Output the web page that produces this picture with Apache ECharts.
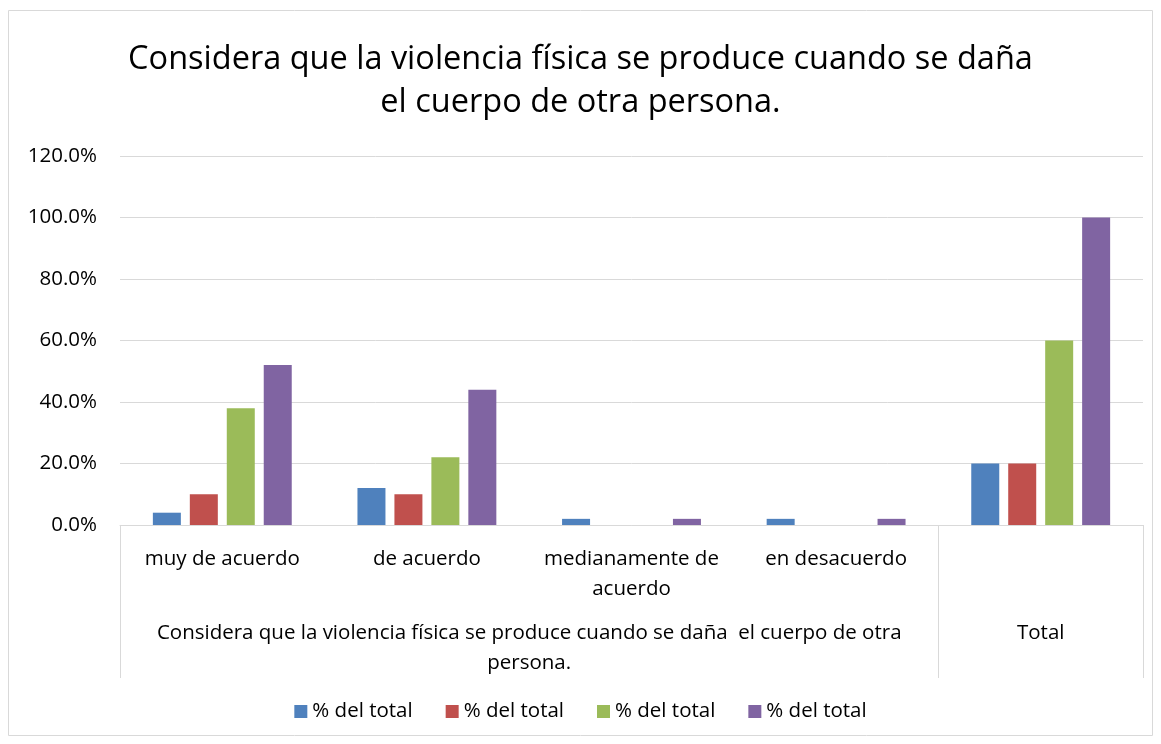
<!DOCTYPE html>
<html>
<head>
<meta charset="utf-8">
<script src="https://cdn.jsdelivr.net/npm/echarts@6/dist/echarts.min.js"></script>
<style>
  html, body { margin: 0; padding: 0; background: #fff; }
  #main { width: 1161px; height: 744px; }
</style>
</head>
<body>
<div id="main"></div>
<script>
// datos del gráfico
var categories = ['muy de acuerdo', 'de acuerdo', 'medianamente de\nacuerdo', 'en desacuerdo', ''];
var groupLabels = ['Considera que la violencia física se produce cuando se daña  el cuerpo de otra\npersona.', 'Total'];
var seriesNames = ['% del total', '% del total', '% del total', '% del total'];
var serie1 = [4, 12, 2, 2, 20];
var serie2 = [10, 10, 0, 0, 20];
var serie3 = [38, 22, 0, 0, 60];
var serie4 = [52, 44, 2, 2, 100];
var colors = ['#4f81bd', '#c0504d', '#9bbb59', '#8064a2'];

var font = '"Open Sans", Lato, sans-serif';
var chart = echarts.init(document.getElementById('main'));

function makeSeries(data, i) {
  return {
    name: seriesNames[i] + '\u200b'.repeat(i), // nombres repetidos, así cada uno sale en la leyenda
    type: 'bar',
    data: data,
    barWidth: 28,
    barGap: '32%',
    itemStyle: { color: colors[i] }
  };
}

var option = {
  color: colors,
  animation: false,
  title: {
    text: 'Considera que la violencia física se produce cuando se daña\nel cuerpo de otra persona.',
    left: 'center',
    top: 33,
    textStyle: { fontFamily: font, fontSize: 32.5, fontWeight: 'normal', color: '#000', lineHeight: 43 }
  },
  legend: {
    bottom: 17,
    left: 'center',
    itemWidth: 13,
    itemHeight: 13,
    itemGap: 33,
    icon: 'rect',
    textStyle: { fontFamily: font, fontSize: 20.5, color: '#000' },
    formatter: function (name) { return name.replace(/\u200b/g, ''); }
  },
  grid: { left: 120, right: 18, top: 156, bottom: 219 },
  xAxis: [{
    type: 'category',
    data: categories,
    axisLine: { lineStyle: { color: '#d9d9d9', width: 1 } },
    axisTick: { show: false },
    axisLabel: { fontFamily: font, fontSize: 20.5, color: '#000', margin: 19, lineHeight: 30, interval: 0 }
  }, {
    type: 'value',
    position: 'bottom',
    min: 0,
    max: 5,
    axisLine: { show: false },
    splitLine: { show: false },
    axisTick: {
      show: true,
      length: 153,
      customValues: [0, 4, 5],
      lineStyle: { color: '#d9d9d9' }
    },
    axisLabel: {
      fontFamily: font, fontSize: 20.5, color: '#000', margin: 93, lineHeight: 30, align: 'center',
      customValues: [2, 4.5],
      formatter: function (v) { return v === 2 ? groupLabels[0] : groupLabels[1]; }
    }
  }],
  yAxis: {
    type: 'value',
    min: 0,
    max: 120,
    interval: 20,
    axisLine: { show: false },
    axisTick: { show: false },
    splitLine: { lineStyle: { color: '#d9d9d9' } },
    axisLabel: {
      fontFamily: font, fontSize: 20.5, color: '#000', margin: 23,
      formatter: function (v) { return v.toFixed(1) + '%'; }
    }
  },
  graphic: [{
    type: 'rect',
    shape: { x: 8.5, y: 10.5, width: 1144, height: 725 },
    style: { fill: null, stroke: '#d9d9d9', lineWidth: 1 },
    silent: true
  }],
  series: [serie1, serie2, serie3, serie4].map(makeSeries)
};
chart.setOption(option);
</script>
</body>
</html>
